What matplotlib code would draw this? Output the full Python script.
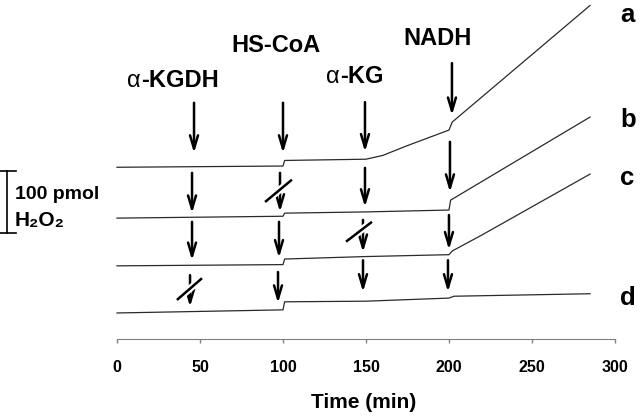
import numpy as np
import matplotlib
matplotlib.use("Agg")
import matplotlib.pyplot as plt
import matplotlib.patheffects as pe

plt.rcParams["font.family"] = ["Liberation Sans", "DejaVu Sans"]

# H2O2 traces (pmol above each trace's own start), time in min
time_a = [0, 100, 101, 150, 160, 175, 200, 202, 285]
h2o2_a = [0, 2, 11, 13, 19, 35, 60, 73, 261]

time_b = [0, 100, 101, 150, 200, 201, 285]
h2o2_b = [0, 3, 8, 10, 13, 29, 163]

time_c = [0, 100, 101, 150, 200, 202, 220, 285]
h2o2_c = [0, 2, 11, 15, 18, 24, 50, 148]

time_d = [0, 100, 101, 150, 200, 203, 285]
h2o2_d = [0, 5, 18, 19, 24, 27, 31]

# vertical stacking of the traces (pmol)
trace_offsets = [277, 195, 118, 42]
trace_names = ["a", "b", "c", "d"]

# additions: (time, arrow start, arrow tip) in pmol
arrows = [
    (46.4, 381, 300), (100.0, 381, 300), (149.4, 382, 302), (201.8, 445, 361),
    (45.2, 268, 203), (98.2, 268, 205), (149.4, 276, 213), (200.6, 318, 237),
    (45.2, 189, 127), (97.6, 189, 131), (148.2, 192, 140), (200.0, 200, 144),
    (44.0, 103, 52), (97.0, 108, 58), (148.2, 127, 76), (199.4, 127, 76),
]
# omitted additions (slashed arrows): x pair, y pair
slashes = [
    ([89.2, 105.4], [221, 257]),
    ([138.0, 153.6], [157, 189]),
    ([36.1, 51.2], [63, 98]),
]

fig = plt.figure(figsize=(6.4, 4.17), dpi=100)
ax = fig.add_axes([0, 0, 1, 1])
ax.patch.set_visible(False)
ax.set_xlim(-70.5, 315.1)
ax.set_ylim(-125.8, 546.8)

traces = [(time_a, h2o2_a), (time_b, h2o2_b), (time_c, h2o2_c), (time_d, h2o2_d)]
for (t, v), off in zip(traces, trace_offsets):
    ax.plot(t, off + np.asarray(v), color="#2a2a2a", lw=0.9)

for t, y0, y1 in arrows:
    ax.annotate(
        "",
        xy=(t, y1),
        xytext=(t, y0),
        arrowprops=dict(
            arrowstyle="->,head_length=0.8,head_width=0.24",
            lw=1.8,
            color="black",
            shrinkA=0,
            shrinkB=0,
            mutation_scale=12,
        ),
    )

for xs, ys in slashes:
    ax.plot(
        xs, ys, color="black", lw=1.8, solid_capstyle="butt", zorder=5,
        path_effects=[pe.Stroke(linewidth=5, foreground="white"), pe.Normal()],
    )

# addition labels
lab = dict(fontsize=17, fontweight="bold", va="baseline")
ax.text(14.5, 406, "\u03b1", fontsize=17, va="baseline", ha="right")
ax.text(14.5, 406, "-KGDH", ha="left", **lab)
ax.text(95.8, 463, "HS-CoA", ha="center", **lab)
ax.text(134.3, 413, "\u03b1", fontsize=17, va="baseline", ha="right")
ax.text(134.3, 413, "-KG", ha="left", **lab)
ax.text(193.4, 474, "NADH", ha="center", **lab)

# trace letters
letter_y = [511, 342, 248, 55]
for name, y in zip(trace_names, letter_y):
    ax.text(303, y, name, fontsize=18.5, fontweight="bold", va="baseline", ha="left")

# scale bar 100 pmol
ax.plot([-66.3, -66.3], [171, 271], color="black", lw=1.2, clip_on=False)
ax.plot([-70.5, -60.8], [271, 271], color="black", lw=1.2, clip_on=False)
ax.plot([-70.5, -60.8], [171, 171], color="black", lw=1.2, clip_on=False)
ax.text(-61.4, 226, "100 pmol", fontsize=14, fontweight="bold", va="baseline", ha="left")
ax.text(-61.4, 182, "H\u2082O\u2082", fontsize=15, fontweight="bold", va="baseline", ha="left")

# time axis
for side in ["top", "left", "right"]:
    ax.spines[side].set_visible(False)
ax.spines["bottom"].set_position(("data", 0))
ax.spines["bottom"].set_bounds(0, 300)
ax.spines["bottom"].set_color("#808080")
ax.set_yticks([])
ax.set_xticks(np.arange(0, 301, 50))
ax.tick_params(axis="x", direction="out", length=3, width=1, color="#808080",
               pad=12, labelsize=11.5)
for lbl in ax.get_xticklabels():
    lbl.set_fontweight("bold")
ax.text(148.8, -111, "Time (min)", fontsize=15, fontweight="bold", ha="center", va="baseline")

fig.savefig("out.png", dpi=100)
